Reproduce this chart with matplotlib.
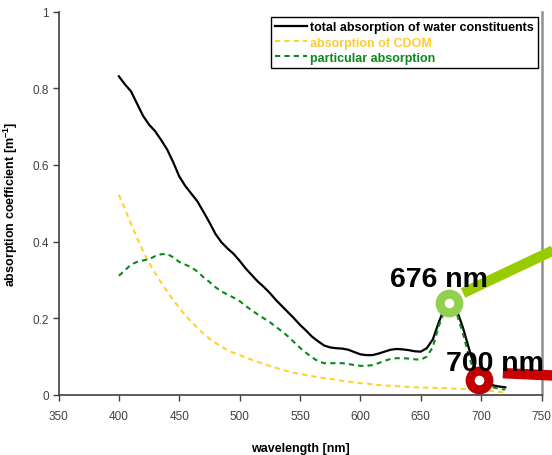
"""Absorption spectra of water constituents with 676/700 nm markers."""

import matplotlib

matplotlib.use("Agg")
import matplotlib.pyplot as plt

plt.rcParams["font.family"] = ["Liberation Sans", "DejaVu Sans"]
plt.rcParams["mathtext.fontset"] = "custom"
plt.rcParams["mathtext.bf"] = "Liberation Sans:bold"
plt.rcParams["mathtext.rm"] = "Liberation Sans:bold"
plt.rcParams["mathtext.default"] = "bf"

# wavelengths [nm]
wl = list(range(400, 725, 5))

total = [0.831, 0.810, 0.792, 0.760, 0.728, 0.705, 0.688, 0.665, 0.640, 0.607,
         0.570, 0.545, 0.525, 0.505, 0.478, 0.450, 0.420, 0.398, 0.382, 0.368,
         0.350, 0.330, 0.313, 0.296, 0.282, 0.266, 0.248, 0.232, 0.216, 0.200,
         0.183, 0.168, 0.152, 0.140, 0.129, 0.124, 0.122, 0.121, 0.118, 0.112,
         0.106, 0.104, 0.104, 0.108, 0.113, 0.118, 0.120, 0.119, 0.117, 0.114,
         0.113, 0.122, 0.145, 0.190, 0.230, 0.245, 0.220, 0.175, 0.120, 0.068,
         0.042, 0.030, 0.025, 0.022, 0.020]

cdom = [0.522, 0.485, 0.447, 0.410, 0.375, 0.345, 0.318, 0.293, 0.270, 0.248,
        0.227, 0.208, 0.191, 0.175, 0.160, 0.147, 0.136, 0.126, 0.117, 0.110,
        0.104, 0.098, 0.092, 0.086, 0.081, 0.076, 0.071, 0.066, 0.062, 0.058,
        0.055, 0.052, 0.049, 0.046, 0.044, 0.042, 0.040, 0.037, 0.035, 0.033,
        0.031, 0.030, 0.028, 0.026, 0.025, 0.024, 0.023, 0.022, 0.021, 0.020,
        0.020, 0.019, 0.019, 0.018, 0.018, 0.017, 0.016, 0.016, 0.015, 0.014,
        0.013, 0.012, 0.010, 0.008, 0.006]

partikel = [0.311, 0.325, 0.340, 0.347, 0.351, 0.354, 0.362, 0.367, 0.368, 0.359,
            0.347, 0.340, 0.333, 0.322, 0.307, 0.295, 0.281, 0.270, 0.262, 0.254,
            0.245, 0.232, 0.221, 0.210, 0.200, 0.190, 0.178, 0.166, 0.153, 0.138,
            0.123, 0.110, 0.098, 0.088, 0.083, 0.083, 0.083, 0.083, 0.081, 0.078,
            0.076, 0.076, 0.078, 0.083, 0.089, 0.094, 0.096, 0.096, 0.095, 0.093,
            0.092, 0.100, 0.125, 0.180, 0.222, 0.235, 0.210, 0.160, 0.100, 0.055,
            0.035, 0.025, 0.020, 0.016, 0.014]

labels = ["total absorption of water constituents",
          "absorption of CDOM",
          "particular absorption"]

# markierte Wellenlaengen
marker_nm = [673.5, 698]
marker_val = [0.240, 0.040]
marker_txt = ["676 nm", "700 nm"]

fig = plt.figure(figsize=(5.52, 4.56), dpi=100)
ax = fig.add_axes([58.5 / 552, 60 / 456, 483 / 552, 383.5 / 456])

ax.plot(wl, total, color="black", lw=1.6, label=labels[0])
ax.plot(wl, cdom, color="#FFD22E", lw=1.5, ls=(0, (2.5, 2)), label=labels[1])
ax.plot(wl, partikel, color="#0A8A1A", lw=1.5, ls=(0, (2.5, 2)), label=labels[2])

ax.set_xlim(350, 750)
ax.set_ylim(0, 1)
ax.set_xticks(range(350, 751, 50))
ax.set_yticks([0, 0.2, 0.4, 0.6, 0.8, 1])
ax.set_yticklabels(["0", "0.2", "0.4", "0.6", "0.8", "1"])
ax.tick_params(direction="out", length=4, width=1, color="#404040",
               labelsize=8.5, labelcolor="#404040")
ax.tick_params(axis="x", pad=7)
ax.tick_params(axis="y", pad=3)
ax.spines["top"].set_visible(False)
for s in ("left", "bottom"):
    ax.spines[s].set_color("#404040")
    ax.spines[s].set_linewidth(1.2)
ax.spines["right"].set_color("#909090")
ax.spines["right"].set_linewidth(1.8)

ax.set_xlabel("wavelength [nm]", fontsize=9, fontweight="bold", labelpad=14)
ax.set_ylabel(r"absorption coefficient [m$^{-1}$]", fontsize=9,
              fontweight="bold", labelpad=9)

leg = ax.legend(loc="upper right", bbox_to_anchor=(538 / 552, 1 - 18 / 456),
                bbox_transform=fig.transFigure, fontsize=9, frameon=True,
                fancybox=False, edgecolor="black", framealpha=1,
                handlelength=2.6, handletextpad=0.2, labelspacing=0.25,
                borderpad=0.35, borderaxespad=0)
leg.get_frame().set_linewidth(1.0)
for txt, farbe in zip(leg.get_texts(), ["black", "#FFCC33", "#0A8A1A"]):
    txt.set_color(farbe)
    txt.set_fontweight("bold")

# Balken zu den Markierungen
ax.plot([685, 765], [0.266, 0.385], color="#99CC00", lw=7.5,
        solid_capstyle="butt", clip_on=False, zorder=4)
ax.plot([718, 765], [0.057, 0.050], color="#CC0000", lw=7.5,
        solid_capstyle="butt", clip_on=False, zorder=4)

ax.plot(marker_nm[0], marker_val[0], "o", ms=13.5, mew=6.5, mec="#92D050",
        mfc="white", clip_on=False, zorder=5)
ax.plot(marker_nm[1], marker_val[1], "o", ms=13.5, mew=6.5, mec="#C00000",
        mfc="white", clip_on=False, zorder=5)

ax.text(390 / 552, 1 - 287 / 456, marker_txt[0], transform=fig.transFigure,
        fontsize=20.5, fontweight="bold", zorder=6)
ax.text(446 / 552, 1 - 371 / 456, marker_txt[1], transform=fig.transFigure,
        fontsize=20.5, fontweight="bold", zorder=6)

fig.savefig("out.png", dpi=100)
